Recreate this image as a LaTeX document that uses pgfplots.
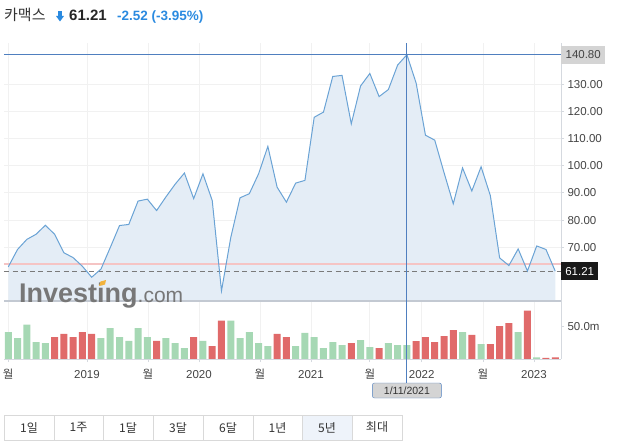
\documentclass[border=0pt]{standalone}
\usepackage{pgfplots}
\pgfplotsset{compat=1.18}
\usepackage{fontspec}
\setmainfont{Liberation Sans}
\newfontfamily\kr{Noto Sans CJK KR}
\definecolor{linec}{HTML}{6AA3D5}
\definecolor{fillc}{HTML}{E4EDF6}
\definecolor{gridc}{HTML}{F1F1F1}
\definecolor{axisc}{HTML}{D5D9DF}
\definecolor{sepc}{HTML}{C3C9D2}
\definecolor{labc}{HTML}{444444}
\definecolor{redl}{HTML}{F5C4C4}
\definecolor{dashc}{HTML}{7A7A7A}
\definecolor{chc}{HTML}{4F7FBF}
\definecolor{boxg}{HTML}{D4D4D4}
\definecolor{greenc}{HTML}{A6D8B4}
\definecolor{redc}{HTML}{E06A6A}
\definecolor{bluet}{HTML}{2A8AE0}
\definecolor{wmc}{HTML}{777777}
\definecolor{btnc}{HTML}{D9D9D9}
\definecolor{selc}{HTML}{EEF3FA}
\definecolor{orng}{HTML}{F2B33D}
\begin{document}
\begin{tikzpicture}
\path[use as bounding box] (0,0) rectangle (629pt,445pt);
% ---------- price panel ----------
\begin{axis}[
  at={(4pt,144pt)}, anchor=south west, scale only axis,
  width=557pt, height=258pt,
  xmin=-0.46, xmax=59.62, ymin=50.26, ymax=145.1,
  axis line style={draw=none},
  xtick={0,8.49,15.07,20.57,27.15,32.65,39.0,44.6,51.2,56.7},
  xticklabels={}, xtick style={draw=none},
  xmajorgrids, ymajorgrids,
  grid style={draw=gridc, line width=0.8pt},
  ytick={70,80,90,100,110,120,130},
  yticklabels={70.00,80.00,90.00,100.00,110.00,120.00,130.00},
  ytick pos=right, yticklabel pos=right,
  tick align=outside, major tick length=3pt,
  ytick style={draw=axisc, line width=0.8pt},
  yticklabel style={font=\fontsize{11.5}{13}\selectfont, text=labc},
]
\addplot[draw=none, fill=fillc] coordinates {
(0,62.8) (1,69.2) (2,72.9) (3,74.8) (4,78.1) (5,74.8) (6,68.0) (7,66.2) (8,63.0) (9,59.0)
(10,62.0) (11,69.9) (12,78.0) (13,78.4) (14,87.0) (15,87.7) (16,83.5) (17,88.5) (18,93.2) (19,97.3)
(20,87.9) (21,97.0) (22,87.2) (23,54.0) (24,73.6) (25,88.2) (26,89.7) (27,97.0) (28,107.1) (29,92.1)
(30,86.6) (31,93.6) (32,94.6) (33,117.8) (34,119.7) (35,132.8) (36,133.2) (37,115.4) (38,129.3) (39,133.9)
(40,125.4) (41,128.0) (42,137.0) (43,140.8) (44,130.3) (45,111.2) (46,109.4) (47,97.5) (48,86.0) (49,99.2)
(50,90.7) (51,99.6) (52,89.0) (53,66.1) (54,63.3) (55,69.4) (56,61.3) (57,70.5) (58,69.2) (59,61.21)
} \closedcycle;
\addplot[redl, line width=1.8pt] coordinates {(-0.46,63.73) (59.62,63.73)};
\addplot[dashc, line width=1.4pt, dash pattern=on 5pt off 3.5pt] coordinates {(-0.46,61.21) (59.62,61.21)};
\addplot[linec, line width=1pt] coordinates {
(0,62.8) (1,69.2) (2,72.9) (3,74.8) (4,78.1) (5,74.8) (6,68.0) (7,66.2) (8,63.0) (9,59.0)
(10,62.0) (11,69.9) (12,78.0) (13,78.4) (14,87.0) (15,87.7) (16,83.5) (17,88.5) (18,93.2) (19,97.3)
(20,87.9) (21,97.0) (22,87.2) (23,54.0) (24,73.6) (25,88.2) (26,89.7) (27,97.0) (28,107.1) (29,92.1)
(30,86.6) (31,93.6) (32,94.6) (33,117.8) (34,119.7) (35,132.8) (36,133.2) (37,115.4) (38,129.3) (39,133.9)
(40,125.4) (41,128.0) (42,137.0) (43,140.8) (44,130.3) (45,111.2) (46,109.4) (47,97.5) (48,86.0) (49,99.2)
(50,90.7) (51,99.6) (52,89.0) (53,66.1) (54,63.3) (55,69.4) (56,61.3) (57,70.5) (58,69.2) (59,61.21)
};
\addplot[chc, line width=0.9pt] coordinates {(-0.46,140.8) (59.62,140.8)};
\coordinate (cht) at (axis cs:43,145.1);
\coordinate (lab1) at (axis cs:59.62,140.8);
\coordinate (lab2) at (axis cs:59.62,61.21);
\end{axis}
% ---------- volume panel ----------
\begin{axis}[
  at={(4pt,86pt)}, anchor=south west, scale only axis,
  width=557pt, height=58pt,
  xmin=-0.46, xmax=59.62, ymin=0, ymax=89.8,
  axis line style={draw=none},
  xtick={0,8.49,15.07,20.57,27.15,32.65,39.0,44.6,51.2,56.7},
  xticklabels={{\kr 월},2019,{\kr 월},2020,{\kr 월},2021,{\kr 월},2022,{\kr 월},2023},
  xtick pos=bottom, xmajorgrids,
  grid style={draw=gridc, line width=0.8pt},
  ytick={50}, yticklabels={50.0m},
  ytick pos=right, yticklabel pos=right,
  tick align=outside, major tick length=3pt,
  tick style={draw=axisc, line width=0.8pt},
  ticklabel style={font=\fontsize{11.5}{13}\selectfont, text=labc},
  xticklabel style={anchor=base, yshift=-16pt},
]
\addplot[ybar, bar width=7pt, bar shift=0pt, fill=greenc, draw=none] coordinates {
(0,41.7) (1,32.3) (2,53.1) (3,26.0) (4,24.5) (10,32.3) (11,47.9) (12,33.9) (13,28.1) (14,47.9)
(15,33.9) (17,32.3) (18,24.5) (19,16.7) (21,28.1) (24,59.4) (25,32.3) (26,41.7) (27,24.5) (28,19.8)
(31,19.8) (32,40.6) (33,33.9) (34,16.7) (35,26.0) (36,21.4) (38,29.2) (39,18.2) (41,24.5) (42,21.4)
(43,21.4) (49,41.7) (51,22.9) (55,41.7) (57,2.6)
};
\addplot[ybar, bar width=7pt, bar shift=0pt, fill=redc, draw=none] coordinates {
(5,33.9) (6,39.0) (7,33.9) (8,41.7) (9,39.0) (16,28.1) (20,33.9) (22,19.8) (23,59.4) (29,39.0)
(30,33.9) (37,24.5) (40,16.7) (44,27.6) (45,33.9) (46,26.0) (47,35.4) (48,44.8) (50,37.5) (52,22.9)
(53,51.0) (54,55.7) (56,75.0) (58,1.6) (59,2.6)
};
\end{axis}
% ---------- frame lines ----------
\draw[axisc, line width=0.8pt] (561pt,86pt) -- (561pt,402pt);
\draw[sepc, line width=1.3pt] (4pt,144pt) -- (561pt,144pt);
\draw[axisc, line width=0.8pt] (4pt,86pt) -- (561pt,86pt);
% crosshair
\draw[chc, line width=0.9pt] (cht) -- (cht |- 0,62pt);
\node[draw=chc, fill=boxg, rounded corners=2pt, minimum width=69pt, minimum height=15pt, inner sep=0pt,
      font=\fontsize{10.5}{12}\selectfont, text=black!80] at (cht |- 0,54.5pt) {1/11/2021};
\node[fill=boxg, anchor=west, minimum width=44pt, minimum height=18pt, inner sep=0pt,
      font=\fontsize{11.5}{13}\selectfont, text=labc] at (lab1) {140.80};
\node[fill=black!90, anchor=west, minimum width=37pt, minimum height=17.5pt, inner sep=0pt,
      font=\fontsize{11.5}{13}\selectfont, text=white] at (lab2) {61.21};
% watermark
\node[anchor=base west, inner sep=0pt, text=wmc] at (19pt,143pt)
  {\fontsize{27}{30}\selectfont\bfseries Investing{\mdseries\fontsize{21}{24}\selectfont .com}};
\fill[orng] (99pt,159pt) -- (105pt,160.5pt) -- (106pt,165pt) -- (100.5pt,163.5pt) -- cycle;
% title
\node[anchor=base west, inner sep=0pt, text=black!80] at (4pt,424pt) {\kr\fontsize{15}{17}\selectfont 카맥스};
\fill[bluet] (58.2pt,433.5pt) rectangle (61.8pt,428.5pt);
\fill[bluet] (56pt,429pt) -- (64pt,429pt) -- (60pt,423.5pt) -- cycle;
\node[anchor=base west, inner sep=0pt, text=black!85] at (69pt,424pt) {\fontsize{15}{17}\selectfont\bfseries 61.21};
\node[anchor=base west, inner sep=0pt, text=bluet] at (117pt,424pt) {\fontsize{13.5}{16}\selectfont\bfseries -2.52 (-3.95\%)};
% range buttons
\fill[selc] (302pt,5pt) rectangle (352pt,30pt);
\draw[btnc, line width=0.8pt] (4pt,5pt) rectangle (402pt,30pt);
\foreach \xx in {54,103,153,203,253,302,352} {\draw[btnc, line width=0.8pt] (\xx pt,5pt) -- (\xx pt,30pt);}
\foreach \xx/\tt in {29/1일,78.5/1주,128/1달,178/3달,228/6달,277.5/1년,327/5년,377/최대} {
  \node[text=black!80, font=\kr\fontsize{12}{14}\selectfont] at (\xx pt,17.5pt) {\tt};
}
\end{tikzpicture}
\end{document}
